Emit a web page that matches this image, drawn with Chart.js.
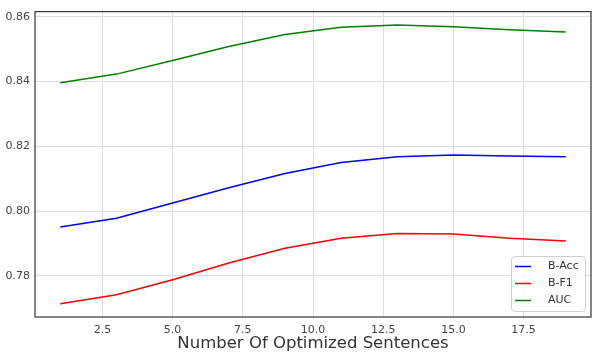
<!DOCTYPE html>
<html lang="en">
<head>
    <meta charset="UTF-8">
    <title>Optimized Sentences</title>
    <style>
        body {
            margin: 0;
            padding: 0;
            background: white;
        }
        .wrap {
            width: 592px;
            height: 354px;
            position: relative;
        }
    </style>
    <script src="https://cdn.jsdelivr.net/npm/chart.js"></script>
</head>
<body>
    <div class="wrap">
        <canvas id="metricChart"></canvas>
    </div>

    <script>
        // values
        const sentences = [1, 3, 5, 7, 9, 11, 13, 15, 17, 19];
        const bAcc = [0.7951, 0.7978, 0.8025, 0.8072, 0.8116, 0.8150, 0.8168, 0.8173, 0.8170, 0.8168];
        const bF1 = [0.7714, 0.7742, 0.7788, 0.7840, 0.7885, 0.7916, 0.7931, 0.7929, 0.7916, 0.7908];
        const auc = [0.8396, 0.8423, 0.8465, 0.8508, 0.8545, 0.8568, 0.8575, 0.8569, 0.8560, 0.8553];
        const xTicks = [2.5, 5.0, 7.5, 10.0, 12.5, 15.0, 17.5];
        const yTicks = [0.78, 0.80, 0.82, 0.84, 0.86];

        const toPoints = vals => vals.map((v, i) => ({ x: sentences[i], y: v }));

        // frame around the plot + legend in the lower right corner
        const frameAndLegend = {
            id: 'frameAndLegend',
            afterDraw(chart) {
                const ctx = chart.ctx;
                const a = chart.chartArea;
                ctx.save();
                ctx.strokeStyle = '#3a3a3a';
                ctx.lineWidth = 1.25;
                ctx.strokeRect(a.left, a.top, a.right - a.left, a.bottom - a.top);

                const bx = a.right - 80, by = a.bottom - 61, bw = 74, bh = 55;
                ctx.fillStyle = 'rgba(255,255,255,0.8)';
                ctx.strokeStyle = '#d0d0d0';
                ctx.lineWidth = 1;
                ctx.beginPath();
                ctx.roundRect(bx + 0.5, by + 0.5, bw, bh, 3);
                ctx.fill();
                ctx.stroke();

                ctx.font = '11px "DejaVu Sans"';
                ctx.textBaseline = 'middle';
                chart.data.datasets.forEach((ds, i) => {
                    const ry = by + 10.5 + i * 17;
                    ctx.strokeStyle = ds.borderColor;
                    ctx.lineWidth = 1.5;
                    ctx.beginPath();
                    ctx.moveTo(bx + 4, ry);
                    ctx.lineTo(bx + 20, ry);
                    ctx.stroke();
                    ctx.fillStyle = '#333';
                    ctx.fillText(ds.label, bx + 37, ry);
                });
                ctx.restore();
            }
        };

        const ctx = document.getElementById('metricChart').getContext('2d');
        new Chart(ctx, {
            type: 'line',
            data: {
                datasets: [
                    { label: 'B-Acc', data: toPoints(bAcc), borderColor: '#0000ff' },
                    { label: 'B-F1', data: toPoints(bF1), borderColor: '#ff0000' },
                    { label: 'AUC', data: toPoints(auc), borderColor: '#008000' }
                ]
            },
            options: {
                responsive: true,
                maintainAspectRatio: false,
                animation: false,
                layout: { padding: { top: 10, right: 1, left: 0, bottom: 0 } },
                elements: {
                    line: { borderWidth: 1.5, tension: 0, fill: false },
                    point: { radius: 0 }
                },
                plugins: {
                    legend: { display: false },
                    tooltip: { enabled: false }
                },
                scales: {
                    x: {
                        type: 'linear',
                        min: 0.1,
                        max: 19.9,
                        afterBuildTicks: s => { s.ticks = xTicks.map(v => ({ value: v })); },
                        afterFit: s => { s.height = 37; },
                        grid: { color: '#dedede', lineWidth: 1, drawTicks: false },
                        border: { display: false },
                        ticks: {
                            padding: 7,
                            color: '#444',
                            font: { family: 'DejaVu Sans', size: 11 },
                            maxRotation: 0,
                            callback: v => v.toFixed(1)
                        },
                        title: {
                            display: true,
                            text: 'Number Of Optimized Sentences',
                            color: '#333',
                            font: { family: 'DejaVu Sans', size: 16.5 },
                            padding: { top: 0, bottom: 0 }
                        }
                    },
                    y: {
                        min: 0.7673,
                        max: 0.8616,
                        afterBuildTicks: s => { s.ticks = yTicks.map(v => ({ value: v })); },
                        afterFit: s => { s.width = 35; },
                        grid: { color: '#dedede', lineWidth: 1, drawTicks: false },
                        border: { display: false },
                        ticks: {
                            padding: 5,
                            color: '#444',
                            font: { family: 'DejaVu Sans', size: 11 },
                            callback: v => v.toFixed(2)
                        }
                    }
                }
            },
            plugins: [frameAndLegend]
        });
    </script>
</body>
</html>
